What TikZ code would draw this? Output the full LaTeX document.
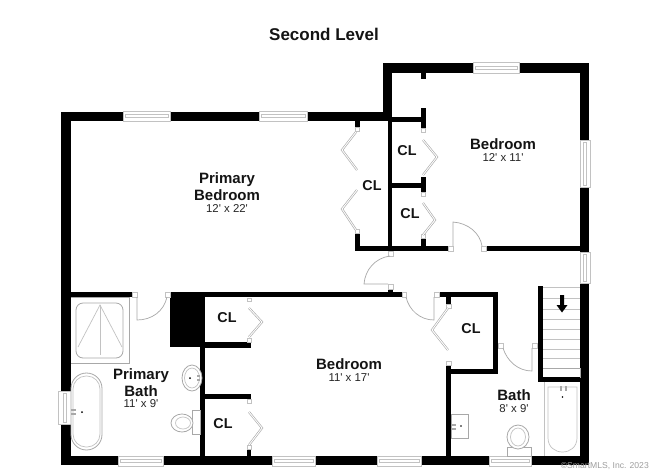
\documentclass[tikz,border=0pt]{standalone}
\usepackage{fontspec}
\newfontfamily\plf{Liberation Sans}
\definecolor{fix}{gray}{0.66}
\definecolor{thin}{gray}{0.76}
\tikzset{
  fixture/.style={draw=fix,line width=0.8pt,fill=white},
  thinline/.style={draw=thin,line width=0.7pt},
  swing/.style={draw=fix,line width=0.7pt},
  leaf/.style={draw=fix,double=white,double distance=0.9pt,line width=0.6pt,line join=miter},
  hinge/.style={draw=thin,line width=0.5pt,fill=white},
  windowbox/.style={draw=thin,line width=0.7pt,fill=white},
  title/.style={font=\plf\bfseries\fontsize{17}{17}\selectfont,inner sep=0pt,text=black!92},
  room/.style={font=\plf\bfseries\fontsize{15}{15}\selectfont,inner sep=0pt,text=black!92},
  dims/.style={font=\plf\fontsize{11.4}{11.4}\selectfont,inner sep=0pt,text=black!85},
  closet/.style={font=\plf\bfseries\fontsize{14.3}{14.3}\selectfont,inner sep=0pt,text=black!92},
  credit/.style={font=\plf\fontsize{8.6}{8.6}\selectfont,inner sep=0pt,text=black!38}
}
\newcommand{\wl}[4]{\fill[black] (#1,#2) rectangle (#3,#4);}
\newcommand{\hw}[4]{\draw[windowbox] (#1,#3) rectangle (#2,#4);
  \draw[thinline] (#1+2,{(#3+#4)/2-1.5}) rectangle (#2-2,{(#3+#4)/2+1.5});}
\newcommand{\vw}[4]{\draw[windowbox] (#1,#3) rectangle (#2,#4);
  \draw[thinline] ({(#1+#2)/2-1.5},#3+2) rectangle ({(#1+#2)/2+1.5},#4-2);}
\newcommand{\hg}[4]{\draw[hinge] (#1,#2) rectangle (#3,#4);}
\begin{document}
\begin{tikzpicture}[x=1pt,y=-1pt]
\useasboundingbox (0,0) rectangle (650,472);
\fill[white] (0,0) rectangle (650,472);
% outer walls
\wl{61}{112}{392}{121}
\wl{61}{112}{71}{465}
\wl{61}{456}{589}{465}
\wl{383}{63}{392}{121}
\wl{383}{63}{589}{73}
\wl{580}{63}{589}{252}
\wl{580}{284}{589}{465}
% windows
\hw{123}{170}{111}{121}
\hw{259}{307}{111}{121}
\hw{473}{519}{62}{73}
\vw{580}{590}{140}{187}
\vw{580}{590}{252}{283}
\vw{58}{71}{391}{424}
\hw{118}{163}{456}{466}
\hw{272}{315}{456}{466}
\hw{377}{421}{456}{466}
\hw{489}{531}{456}{466}
% upper closets
\wl{388}{121}{392}{251}
\wl{392}{117}{424}{122}
\wl{421}{73}{426}{79}
\wl{421}{108}{426}{128}
\wl{392}{183}{424}{188}
\wl{421}{177}{426}{192}
\wl{421}{238}{426}{250}
\wl{355}{246}{448}{251}
\wl{355}{233}{360}{251}
\wl{355}{121}{360}{127}
\wl{486}{246}{580}{251}
% middle wall
\wl{170}{292}{402}{297}
\wl{70}{292}{132}{297}
\wl{170}{292}{205}{347}
\wl{388}{289}{393}{292}
\wl{439}{292}{498}{297}
\wl{446}{297}{451}{304}
\wl{493}{292}{498}{374}
\wl{446}{369}{498}{374}
\wl{446}{365}{451}{456}
\wl{200}{347}{205}{456}
\wl{205}{342}{251}{348}
\wl{205}{394}{251}{399}
\wl{247}{449}{251}{456}
% stairs
\foreach \sy in {287,298,309,319,329,339,349,358}{\draw[thinline] (543,\sy) -- (580,\sy);}
\draw[fixture] (542,368) rectangle (580,377);
\wl{538}{286}{543}{382}
\wl{538}{377}{580}{382}
\fill[black] (560,295) -- (564,295) -- (564,305) -- (567.5,305) -- (562,312.5) -- (556.5,305) -- (560,305) -- cycle;
% hinges
\hg{132}{292}{137}{297}
\hg{165}{292}{170}{297}
\hg{402}{292}{406}{297}
\hg{434}{292}{439}{297}
\hg{388}{251}{393}{256}
\hg{388}{284}{393}{289}
\hg{448}{246}{453}{251}
\hg{481}{246}{486}{251}
\hg{498}{343}{503}{348}
\hg{532}{343}{537}{348}
\hg{355}{127}{359}{131}
\hg{355}{229}{359}{233}
\hg{421}{128}{425}{132}
\hg{421}{192}{425}{196}
\hg{421}{234}{425}{238}
\hg{247}{298}{251}{301}
\hg{247}{338}{251}{342}
\hg{247}{399}{251}{403}
\hg{247}{445}{251}{449}
\hg{446}{304}{451}{308}
\hg{446}{361}{451}{365}
% door swings
\draw[swing] (137,297) -- (137,320) .. controls (152,320) and (164,311) .. (167,297);
\draw[swing] (406,297) .. controls (409,310) and (420,320) .. (434,320) -- (434,297);
\draw[swing] (390,256) .. controls (375,258) and (365,270) .. (364,284) -- (388,284);
\draw[swing] (453,246) -- (453,222) .. controls (468,223) and (480,233) .. (482,246);
\draw[swing] (503,348) .. controls (507,361) and (518,371) .. (532,371) -- (532,348);
% bifold doors
\draw[leaf] (356,132) -- (342,150) -- (357,170);
\draw[leaf] (357,190) -- (342,209) -- (356,230);
\draw[leaf] (423,140) -- (437,157) -- (423,175);
\draw[leaf] (423,203) -- (435,220) -- (423,235);
\draw[leaf] (249,308) -- (262,322) -- (249,337);
\draw[leaf] (249,412) -- (262,428) -- (249,445);
\draw[leaf] (448,308) -- (432,330) -- (448,350);
% shower
\draw[fixture] (71,297) -- (129,297) -- (129,363) -- (71,363);
\draw[fixture,rounded corners=7pt] (76,303) rectangle (123,358);
\draw[thinline] (78,347) -- (100,305) -- (122,347);
\draw[thinline] (100,305) -- (100,355);
% primary tub
\draw[fixture,rounded corners=15.5pt] (71,373) rectangle (102,450);
\draw[thinline,rounded corners=13pt] (73,376) rectangle (100,447);
\fill[fix] (71,409) rectangle (76,411);
\fill[fix] (71,413) rectangle (76,415);
\fill[thin] (82,412) circle (1pt);
% primary sink
\draw[fixture] (192,378) ellipse (10 and 13);
\draw[thinline] (192,378) ellipse (7.5 and 10);
\fill[fix] (197,375) rectangle (200,377);
\fill[fix] (197,379) rectangle (200,381);
\fill[thin] (190,378) circle (1pt);
% primary toilet
\draw[fixture] (192,410) rectangle (200,434);
\draw[fixture] (182,423) ellipse (11 and 9);
\draw[thinline] (183,423) ellipse (7.5 and 6);
% bath sink
\draw[fixture] (451,414) rectangle (468,438);
\fill[fix] (451,424) rectangle (456,426);
\fill[fix] (451,428) rectangle (456,430);
\fill[thin] (461,426) circle (0.8pt);
% bath toilet
\draw[fixture] (507,447) rectangle (531,456);
\draw[fixture] (518,437) ellipse (11 and 12);
\draw[thinline] (518,437) ellipse (7.5 and 9);
% bath tub
\draw[thinline] (544,382) -- (544,456);
\draw[thinline] (548,387) -- (577,387) -- (577,438) .. controls (577,447) and (570,452) .. (562.5,452) .. controls (555,452) and (548,447) .. (548,438) -- cycle;
\fill[fix] (560,386) rectangle (562,391);
\fill[fix] (564.5,386) rectangle (566.5,391);
\fill[thin] (562.5,397) circle (0.8pt);
% labels
\node[title] (tTitle) at (324,34) {Second Level};
\node[room] (tPB1) at (227,180) {Primary};
\node[room] (tPB2) at (227,195) {Bedroom};
\node[dims] (tPB3) at (227,209) {12' x 22'};
\node[room] (tB1) at (503,144) {Bedroom};
\node[dims] (tB1d) at (503,158) {12' x 11'};
\node[closet] (tC1) at (407,151) {CL};
\node[closet] (tC2) at (372,186) {CL};
\node[closet] (tC3) at (410,214) {CL};
\node[closet] (tC4) at (227,318) {CL};
\node[closet] (tC5) at (223,424) {CL};
\node[closet] (tC6) at (471,329) {CL};
\node[room] (tPBa1) at (141,376) {Primary};
\node[room] (tPBa2) at (141,391) {Bath};
\node[dims] (tPBa3) at (141,404) {11' x 9'};
\node[room] (tB2) at (349,364) {Bedroom};
\node[dims] (tB2d) at (349,378) {11' x 17'};
\node[room] (tBa) at (514,395) {Bath};
\node[dims] (tBad) at (514,409) {8' x 9'};
\node[credit,anchor=east] (tCr) at (649,466) {©SmartMLS, Inc. 2023};
\end{tikzpicture}
\end{document}
